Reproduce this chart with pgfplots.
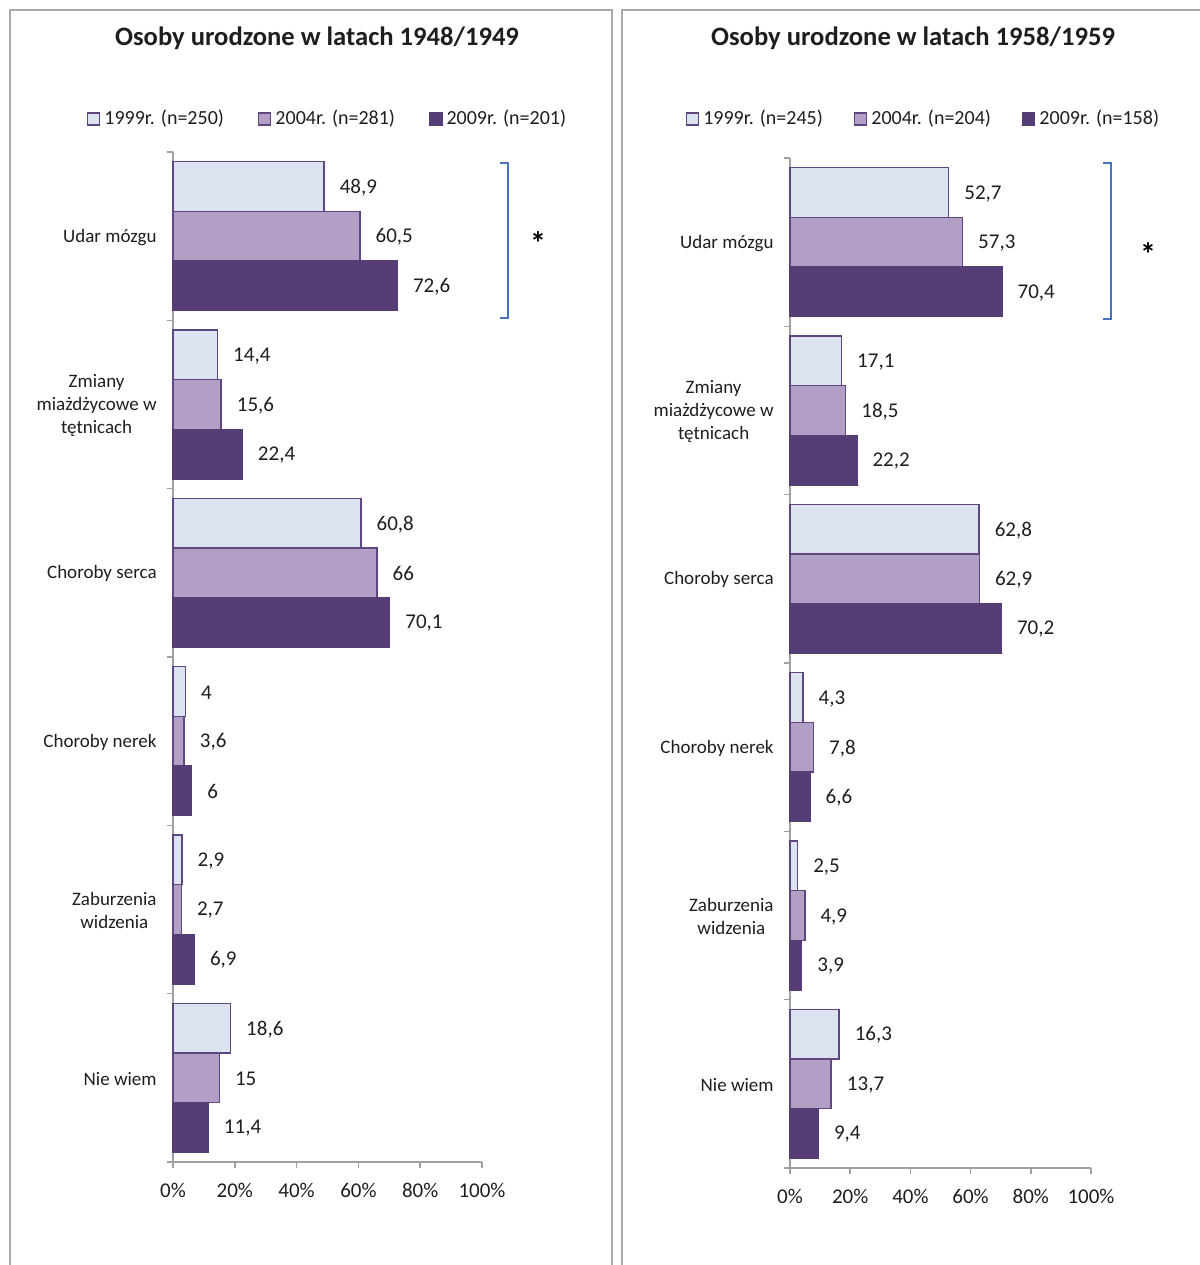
\documentclass[border=0pt]{standalone}
\usepackage{pgfplots}
\pgfplotsset{compat=1.18}
\usepackage{fontspec}
\setmainfont{Carlito}
\definecolor{lightbar}{RGB}{219,227,240}
\definecolor{midbar}{RGB}{177,159,198}
\definecolor{darkbar}{RGB}{87,61,117}
\definecolor{baredge}{RGB}{96,70,128}
\definecolor{axisgray}{RGB}{160,160,160}
\definecolor{framegray}{RGB}{170,170,170}
\definecolor{txt}{RGB}{30,30,30}
\definecolor{brblue}{RGB}{68,114,196}
\pgfplotsset{
  mybars/.style={
    scale only axis, height=505pt,
    xbar, bar width=0.295, clip=false,
    xmin=0, xmax=100, ymin=-0.5, ymax=5.5, y dir=reverse,
    axis x line*=bottom, axis y line*=left,
    axis line style={axisgray, line width=0.8pt},
    tick style={axisgray, line width=0.8pt},
    tick align=outside, major tick length=3pt,
    /pgf/number format/.cd, use comma, fixed, precision=1, assume math mode=true, /pgfplots/.cd,
    xtick={0,20,...,100},
    xticklabel={\pgfmathprintnumber{\tick}\%},
    xticklabel style={font=\fontsize{10.5}{12}\selectfont, text=txt, inner sep=0pt, anchor=center, yshift=-11pt},
    ytick={-0.5,0.5,...,5.5}, yticklabels={,,,,,,,},
    extra y ticks={0,1,2,3,4,5},
    extra y tick labels={Udar mózgu,{Zmiany\\miażdżycowe w\\tętnicach},Choroby serca,Choroby nerek,{Zaburzenia\\widzenia},Nie wiem},
    extra y tick style={major tick length=0pt, tick style={draw=none},
      yticklabel style={align=center, font=\fontsize{9.5}{11.5}\selectfont, text=txt, inner sep=0pt, anchor=east, xshift=-8pt, yshift=-0.5pt}},
    point meta=x,
    nodes near coords,
    every node near coord/.append style={anchor=west, inner sep=0pt, xshift=7.5pt, yshift=-0.5pt, font=\fontsize{10.5}{12}\selectfont, text=txt},
    legend columns=3,
    legend cell align=left,
    legend image code/.code={\draw[##1] (0pt,-3pt) rectangle (6pt,3pt);},
    legend style={draw=none, fill=none, inner sep=0pt, font=\fontsize{10}{12}\selectfont, text=txt,
      nodes={inner sep=2pt}},
  },
  s1/.style={fill=lightbar, draw=baredge, line width=0.75pt, bar shift=-0.295},
  s2/.style={fill=midbar, draw=baredge, line width=0.75pt, bar shift=0},
  s3/.style={fill=darkbar, draw=darkbar, line width=0.75pt, bar shift=0.295},
}
\begin{document}
\begin{tikzpicture}
\useasboundingbox (0pt,0pt) rectangle (600pt,-632.5pt);
% panel frames
\draw[framegray, line width=1pt] (5pt,-640pt) -- (5pt,-5pt) -- (306pt,-5pt) -- (306pt,-640pt);
\draw[framegray, line width=1pt] (311pt,-640pt) -- (311pt,-5pt) -- (610pt,-5pt);
% titles
\node[font=\bfseries\fontsize{13.3}{15}\selectfont, text=txt] at (158.5pt,-19pt) {Osoby urodzone w latach 1948/1949};
\node[font=\bfseries\fontsize{13.3}{15}\selectfont, text=txt] at (456.5pt,-19pt) {Osoby urodzone w latach 1958/1959};

\begin{axis}[mybars, width=154.5pt, at={(86.5pt,-581pt)}, anchor=south west,
  legend style={at={(-0.28,1.0327)}, anchor=west, /tikz/every even column/.append style={column sep=15pt}}]
\addplot[s1] coordinates {(48.9,0) (14.4,1) (60.8,2) (4,3) (2.9,4) (18.6,5)};
\addplot[s2] coordinates {(60.5,0) (15.6,1) (66,2) (3.6,3) (2.7,4) (15,5)};
\addplot[s3] coordinates {(72.6,0) (22.4,1) (70.1,2) (6,3) (6.9,4) (11.4,5)};
\legend{1999r. (n=250),2004r. (n=281),2009r. (n=201)}
\end{axis}

\begin{axis}[mybars, width=150.5pt, at={(395pt,-584pt)}, anchor=south west,
  legend style={at={(-0.3475,1.0386)}, anchor=west, /tikz/every even column/.append style={column sep=13.5pt}}]
\addplot[s1] coordinates {(52.7,0) (17.1,1) (62.8,2) (4.3,3) (2.5,4) (16.3,5)};
\addplot[s2] coordinates {(57.3,0) (18.5,1) (62.9,2) (7.8,3) (4.9,4) (13.7,5)};
\addplot[s3] coordinates {(70.4,0) (22.2,1) (70.2,2) (6.6,3) (3.9,4) (9.4,5)};
\legend{1999r. (n=245),2004r. (n=204),2009r. (n=158)}
\end{axis}

% significance brackets
\draw[brblue, line width=1pt] (250pt,-81.5pt) -- (254pt,-81.5pt) -- (254pt,-159pt) -- (250pt,-159pt);
\draw[brblue, line width=1pt] (551.5pt,-81.5pt) -- (555.5pt,-81.5pt) -- (555.5pt,-159.5pt) -- (551.5pt,-159.5pt);
\node[font=\bfseries\fontsize{16}{16}\selectfont, text=black, inner sep=0pt] at (269pt,-121.5pt) {*};
\node[font=\bfseries\fontsize{16}{16}\selectfont, text=black, inner sep=0pt] at (574pt,-127pt) {*};
\end{tikzpicture}
\end{document}
